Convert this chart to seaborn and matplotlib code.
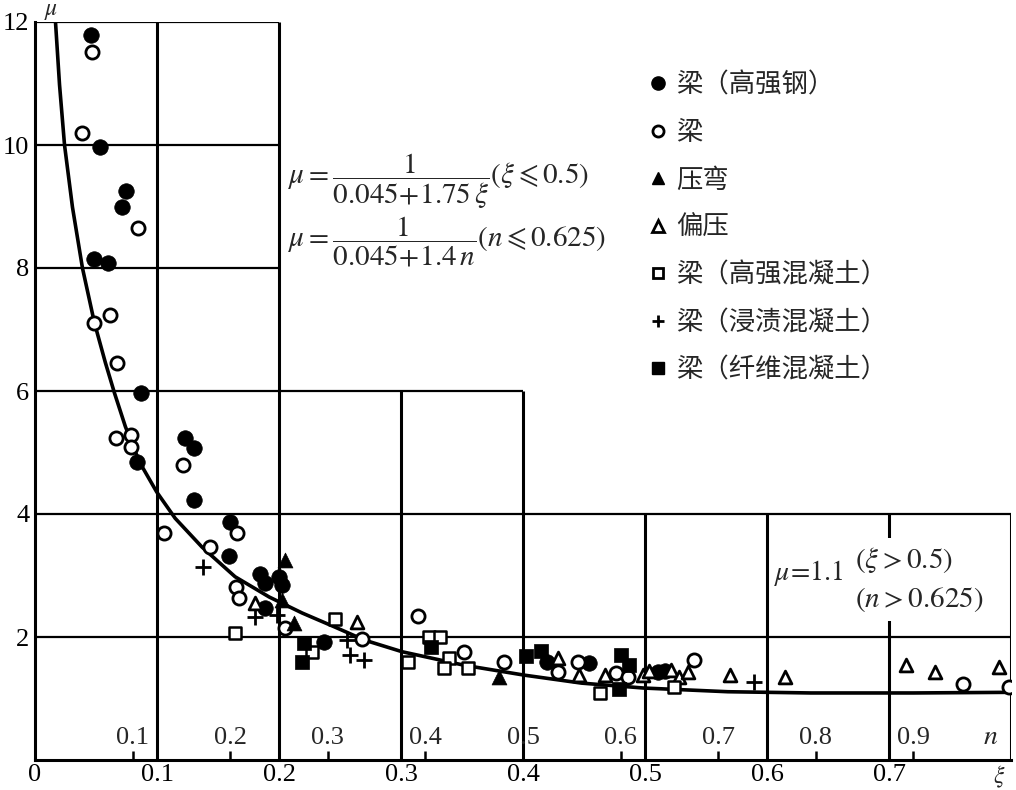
import numpy as np
import pandas as pd
import matplotlib
matplotlib.use("Agg")
import matplotlib.pyplot as plt
from matplotlib.lines import Line2D
import seaborn as sns

# ---------------- data ----------------
hs_steel_x = [0.0457, 0.0536, 0.0749, 0.0716, 0.0487, 0.0602, 0.0872, 0.0839, 0.1231, 0.1305,
              0.1305, 0.160, 0.159, 0.1845, 0.1885, 0.200, 0.2024, 0.1885, 0.2368, 0.420,
              0.454, 0.511, 0.516]
hs_steel_y = [11.79, 9.97, 9.25, 8.99, 8.15, 8.08, 5.97, 4.85, 5.24, 5.07,
              4.23, 3.87, 3.32, 3.02, 2.88, 2.98, 2.85, 2.47, 1.92, 1.59,
              1.58, 1.43, 1.45]

beam_x = [0.0471, 0.0389, 0.0847, 0.0618, 0.0487, 0.0675, 0.0667, 0.079, 0.079, 0.1215,
          0.106, 0.1657, 0.1436, 0.1648, 0.1673, 0.2049, 0.2678, 0.3137, 0.352, 0.3848,
          0.429, 0.445, 0.4764, 0.486, 0.540, 0.761, 0.798]
beam_y = [11.51, 10.20, 8.65, 7.24, 7.11, 6.46, 5.24, 5.28, 5.09, 4.80,
          3.69, 3.69, 3.46, 2.81, 2.63, 2.15, 1.97, 2.34, 1.76, 1.59,
          1.43, 1.59, 1.41, 1.35, 1.63, 1.24, 1.19]

bend_x = [0.205, 0.2024, 0.2123, 0.3807]
bend_y = [3.25, 2.60, 2.23, 1.35]

ecc_x = [0.180, 0.2638, 0.429, 0.446, 0.467, 0.4985, 0.5034, 0.521, 0.528, 0.535,
         0.570, 0.6146, 0.7143, 0.738, 0.790]
ecc_y = [2.55, 2.24, 1.66, 1.39, 1.38, 1.38, 1.45, 1.46, 1.35, 1.43,
         1.38, 1.35, 1.54, 1.43, 1.51]

hsc_x = [0.164, 0.2458, 0.227, 0.3055, 0.3226, 0.3316, 0.339, 0.335, 0.355, 0.4633, 0.5238]
hsc_y = [2.06, 2.29, 1.76, 1.59, 2.00, 2.00, 1.66, 1.50, 1.50, 1.09, 1.19]

imp_x = [0.138, 0.180, 0.198, 0.2556, 0.258, 0.2695, 0.589]
imp_y = [3.14, 2.33, 2.36, 1.95, 1.71, 1.63, 1.27]

fib_x = [0.2204, 0.2188, 0.3243, 0.4028, 0.415, 0.4804, 0.487, 0.4788]
fib_y = [1.90, 1.59, 1.84, 1.69, 1.77, 1.71, 1.54, 1.15]

curve_x = [0.0168, 0.0201, 0.0242, 0.0307, 0.0389, 0.0487, 0.0577, 0.0651, 0.0741, 0.0855,
           0.0997, 0.1149, 0.137, 0.164, 0.192, 0.219, 0.246, 0.270, 0.301, 0.352,
           0.401, 0.448, 0.499, 0.568, 0.636, 0.72, 0.797]
curve_y = [12.0, 10.98, 10.0, 8.99, 8.0, 7.11, 6.46, 5.97, 5.42, 4.85,
           4.36, 3.93, 3.46, 2.98, 2.65, 2.39, 2.16, 1.95, 1.76, 1.54,
           1.38, 1.25, 1.17, 1.11, 1.09, 1.09, 1.10]

labels = ["梁（高强钢）", "梁", "压弯", "偏压", "梁（高强混凝土）", "梁（浸渍混凝土）", "梁（纤维混凝土）"]

xi_ticks = [0, 0.1, 0.2, 0.3, 0.4, 0.5, 0.6, 0.7]
xi_ticklabels = ["0", "0.1", "0.2", "0.3", "0.4", "0.5", "0.6", "0.7"]
xi_axis_label_pos = 0.79
mu_ticks = [2, 4, 6, 8, 10, 12]
n_ticks = [0.1, 0.2, 0.3, 0.4, 0.5, 0.6, 0.7, 0.8, 0.9]
n_per_xi = 1.25

# stepped frame/grid: (level, extent)
h_lines = [(2, 0.8), (4, 0.8), (6, 0.4), (8, 0.2), (10, 0.2), (12, 0.2)]
v_lines = [(0.1, 12), (0.2, 12), (0.3, 6), (0.4, 6), (0.5, 4), (0.6, 4), (0.7, 4), (0.8, 4)]

# ---------------- style ----------------
sns.set_theme(style="white")
plt.rcParams["font.family"] = ["Liberation Serif", "Noto Sans CJK SC", "DejaVu Sans"]
plt.rcParams["mathtext.fontset"] = "stix"

fig = plt.figure(figsize=(10.16, 7.9), dpi=100)
ax = fig.add_axes([35 / 1016, 1 - 760 / 790, (1011 - 35) / 1016, (760 - 22) / 790])
ax.set_xlim(0, 0.8)
ax.set_ylim(0, 12)

for s in ["top", "right"]:
    ax.spines[s].set_visible(False)
for s in ["left", "bottom"]:
    ax.spines[s].set_linewidth(2.2)
    ax.spines[s].set_color("black")

for lvl, ext in h_lines:
    ax.hlines(lvl, 0, ext, color="black", lw=1.6, zorder=1)
for pos, ext in v_lines:
    ax.vlines(pos, 0, ext, color="black", lw=2.2, zorder=1)

# curve
cdf = pd.DataFrame({"xi": curve_x, "mu": curve_y})
sns.lineplot(data=cdf, x="xi", y="mu", ax=ax, color="black", lw=2.6, sort=False,
             estimator=None, zorder=2)

def sc(xs, ys, **kw):
    d = pd.DataFrame({"xi": xs, "mu": ys})
    sns.scatterplot(data=d, x="xi", y="mu", ax=ax, zorder=3, legend=False, **kw)

sc(hs_steel_x, hs_steel_y, marker="o", s=125, color="black", edgecolor="black", linewidth=0.5)
sc(beam_x, beam_y, marker="o", s=90, facecolor="white", edgecolor="black", linewidth=2.0)
sc(bend_x, bend_y, marker="^", s=115, color="black", edgecolor="black", linewidth=0.5)
sc(ecc_x, ecc_y, marker="^", s=85, facecolor="white", edgecolor="black", linewidth=2.0)
sc(hsc_x, hsc_y, marker="s", s=78, facecolor="white", edgecolor="black", linewidth=1.8)
sc(imp_x, imp_y, marker="+", s=135, color="black", linewidth=2.0)
sc(fib_x, fib_y, marker="s", s=95, color="black", edgecolor="black", linewidth=0.5)

ax.set_xlabel("")
ax.set_ylabel("")
ax.set_xticks(xi_ticks)
ax.set_xticklabels(xi_ticklabels, fontsize=19)
ax.set_yticks(mu_ticks)
ax.set_yticklabels([str(v) for v in mu_ticks], fontsize=19)
ax.tick_params(axis="both", length=0, colors="black")
ax.tick_params(axis="x", pad=3)
ax.tick_params(axis="y", pad=4)

# axis titles
fig.text(44 / 1016, 1 - 1 / 790, r"$\mu$", fontsize=17, ha="left", va="top")
ax.text(xi_axis_label_pos, -0.005, r"$\xi$", fontsize=17, ha="center", va="top",
        transform=ax.get_xaxis_transform(), clip_on=False)

# secondary n scale inside the plot
for nv in n_ticks:
    xp = nv / n_per_xi
    ax.vlines(xp, 0, 0.14, color="black", lw=1.8, zorder=1)
    ax.text(xp, 0.36, f"{nv:.1f}", fontsize=19, ha="center", va="center")
ax.text(0.783, 0.36, r"$n$", fontsize=20, ha="center", va="center")

# formulas
ax.text(0.207, 9.40, r"$\mu=\dfrac{1}{0.045\!+\!1.75\,\xi}(\xi\leqslant0.5)$",
        fontsize=21, ha="left", va="center")
ax.text(0.207, 8.42, r"$\mu=\dfrac{1}{0.045\!+\!1.4\,n}(n\leqslant0.625)$",
        fontsize=21, ha="left", va="center")

wb = dict(facecolor="white", edgecolor="none", pad=5)
ax.text(0.606, 3.04, r"$\mu\!=\!1.1$", fontsize=20, ha="left", va="center", zorder=4)
ax.text(0.672, 2.93, "$(\\xi>0.5)$\n$(n>0.625)$", fontsize=21, ha="left", va="center",
        linespacing=1.45, bbox=wb, zorder=4)

# legend
handles = [
    Line2D([], [], ls="", marker="o", ms=9.5, mfc="black", mec="black"),
    Line2D([], [], ls="", marker="o", ms=8, mfc="white", mec="black", mew=2),
    Line2D([], [], ls="", marker="^", ms=9, mfc="black", mec="black"),
    Line2D([], [], ls="", marker="^", ms=8, mfc="white", mec="black", mew=2),
    Line2D([], [], ls="", marker="s", ms=7.5, mfc="white", mec="black", mew=2),
    Line2D([], [], ls="", marker="+", ms=9, mec="black", mew=2),
    Line2D([], [], ls="", marker="s", ms=8.5, mfc="black", mec="black"),
]
leg = ax.legend(handles, labels, loc="upper left", bbox_to_anchor=(634 / 1016, 1 - 58 / 790),
                bbox_transform=fig.transFigure, frameon=False,
                handlelength=0.8, handletextpad=0.3, labelspacing=0.78, borderpad=0,
                prop={"family": ["Noto Sans CJK SC"], "size": 19})

fig.savefig("out.png", dpi=100)
